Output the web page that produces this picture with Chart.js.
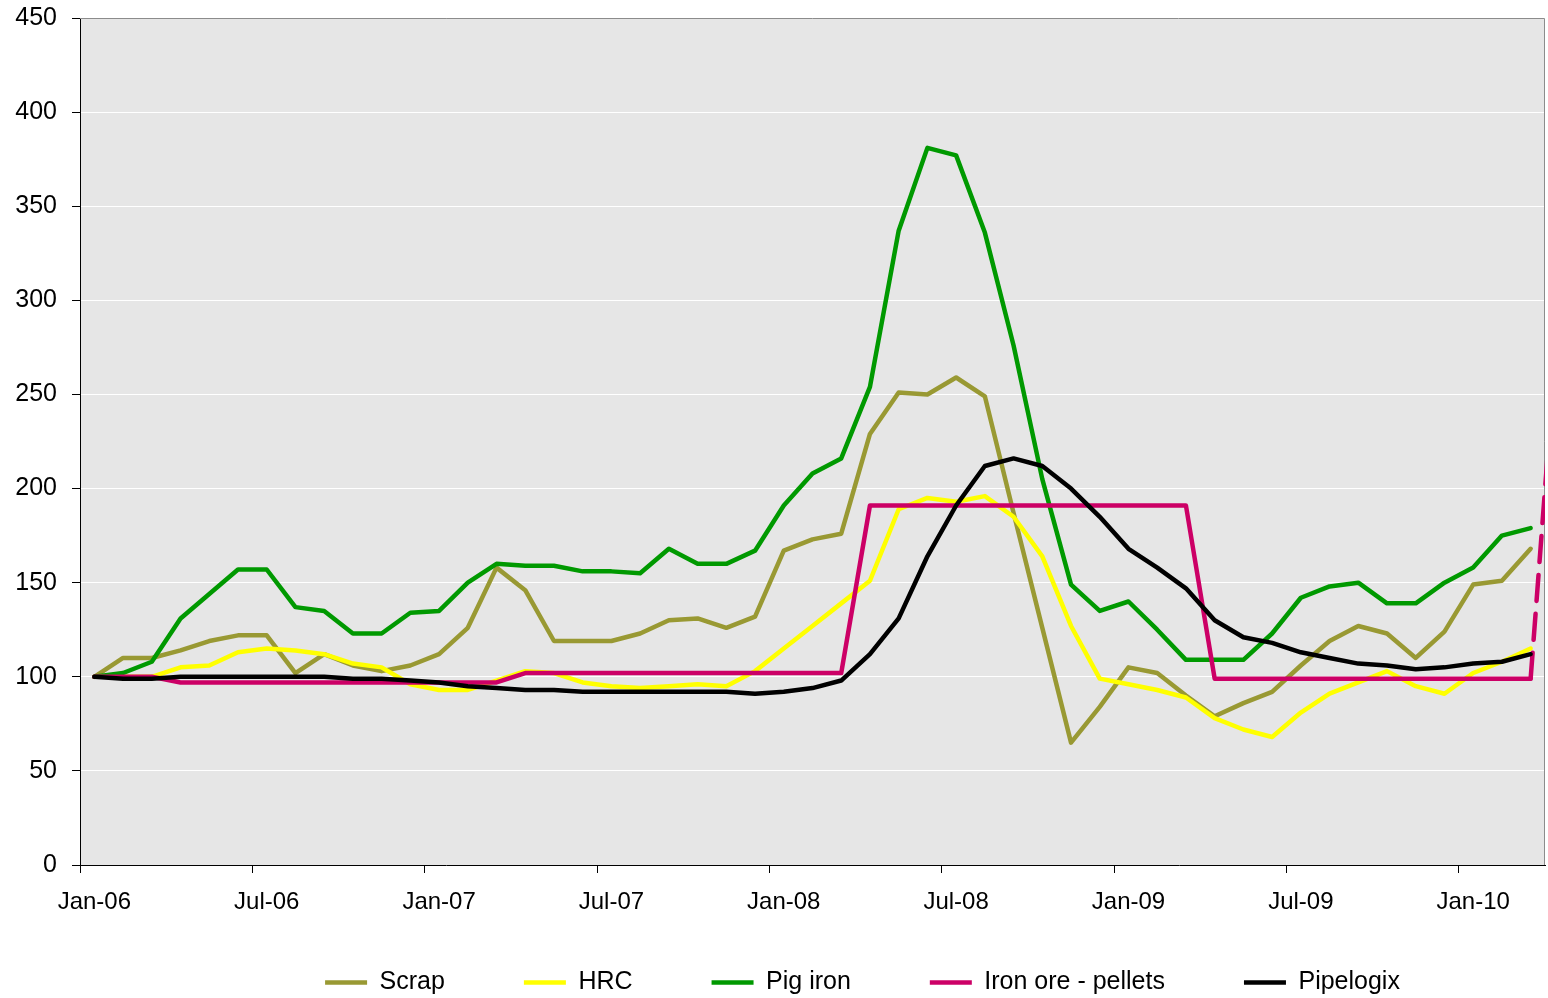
<!DOCTYPE html>
<html>
<head>
<meta charset="utf-8">
<title>Steel input prices vs Pipelogix</title>
<script src="https://cdn.jsdelivr.net/npm/chart.js@4.4.1/dist/chart.umd.min.js"></script>
<style>
  body { margin: 0; background: #fff; }
  #wrap { width: 1548px; height: 998px; }
</style>
</head>
<body>
<div id="wrap"><canvas id="price-chart"></canvas></div>
<script>
// months on the x axis (Apr-10 is only used by the dashed pellets line)
const months = [
  'Jan-06', 'Feb-06', 'Mar-06', 'Apr-06', 'May-06', 'Jun-06', 'Jul-06', 'Aug-06', 'Sep-06', 'Oct-06', 'Nov-06', 'Dec-06',
  'Jan-07', 'Feb-07', 'Mar-07', 'Apr-07', 'May-07', 'Jun-07', 'Jul-07', 'Aug-07', 'Sep-07', 'Oct-07', 'Nov-07', 'Dec-07',
  'Jan-08', 'Feb-08', 'Mar-08', 'Apr-08', 'May-08', 'Jun-08', 'Jul-08', 'Aug-08', 'Sep-08', 'Oct-08', 'Nov-08', 'Dec-08',
  'Jan-09', 'Feb-09', 'Mar-09', 'Apr-09', 'May-09', 'Jun-09', 'Jul-09', 'Aug-09', 'Sep-09', 'Oct-09', 'Nov-09', 'Dec-09',
  'Jan-10', 'Feb-10', 'Mar-10', 'Apr-10'
];
const tickLabels = ['Jan-06', 'Jul-06', 'Jan-07', 'Jul-07', 'Jan-08', 'Jul-08', 'Jan-09', 'Jul-09', 'Jan-10'];

// index values (Jan-06 = 100)
const scrap = [100, 110, 110, 114, 119, 122, 122, 102, 112, 106, 103, 106,
  112, 126, 158, 146, 119, 119, 119, 123, 130, 131, 126, 132,
  167, 173, 176, 229, 251, 250, 259, 249, 187, 126, 65, 84,
  105, 102, 90, 79, 86, 92, 106, 119, 127, 123, 110, 124,
  149, 151, 168];
const hrc = [100, 100, 100, 105, 106, 113, 115, 114, 112, 107, 105, 96,
  93, 93, 98, 103, 102, 97, 95, 94, 95, 96, 95, 103,
  115, 127, 139, 151, 189, 195, 193, 196, 185, 164, 127, 99,
  96, 93, 89, 78, 72, 68, 81, 91, 97, 103, 95, 91,
  102, 108, 115];
const pigIron = [100, 102, 108, 131, 144, 157, 157, 137, 135, 123, 123, 134,
  135, 150, 160, 159, 159, 156, 156, 155, 168, 160, 160, 167,
  191, 208, 216, 254, 337, 381, 377, 336, 276, 205, 149, 135,
  140, 125, 109, 109, 109, 123, 142, 148, 150, 139, 139, 150,
  158, 175, 179];
const pellets = [100, 100, 100, 97, 97, 97, 97, 97, 97, 97, 97, 97,
  97, 97, 97, 102, 102, 102, 102, 102, 102, 102, 102, 102,
  102, 102, 102, 191, 191, 191, 191, 191, 191, 191, 191, 191,
  191, 191, 191, 99, 99, 99, 99, 99, 99, 99, 99, 99,
  99, 99, 99, 300];
const pipelogix = [100, 99, 99, 100, 100, 100, 100, 100, 100, 99, 99, 98,
  97, 95, 94, 93, 93, 92, 92, 92, 92, 92, 92, 91,
  92, 94, 98, 112, 131, 164, 191, 212, 216, 212, 200, 185,
  168, 158, 147, 130, 121, 118, 113, 110, 107, 106, 104, 105,
  107, 108, 112];

const toPoints = (arr) => arr.map((v, i) => ({ x: i, y: v }));

const series = (label, data, color, order) => ({
  label: label,
  data: toPoints(data),
  xAxisID: 'x',
  yAxisID: 'y',
  borderColor: color,
  backgroundColor: color,
  borderWidth: 4.5,
  borderJoinStyle: 'round',
  borderCapStyle: 'round',
  pointRadius: 0,
  pointHoverRadius: 0,
  pointStyle: 'line',
  tension: 0,
  fill: false,
  order: order,
});

const pelletSet = series('Iron ore - pellets', pellets, '#cc0066', 2);
// last step (Mar-10 -> Apr-10) is dashed
pelletSet.segment = {
  borderDash: (ctx) => (ctx.p1DataIndex === pellets.length - 1 ? [26, 13] : undefined),
};

Chart.defaults.font.family = "'Liberation Sans', Arial, sans-serif";
Chart.defaults.color = '#000';

// grey plot area + top/right frame
const plotArea = {
  id: 'plotArea',
  beforeDraw(chart) {
    const { ctx, chartArea: a } = chart;
    ctx.save();
    ctx.fillStyle = '#e6e6e6';
    ctx.fillRect(a.left, a.top, a.width, a.height);
    ctx.restore();
  },
  beforeDatasetsDraw(chart) {
    const { ctx, chartArea: a } = chart;
    ctx.save();
    ctx.strokeStyle = '#8c8c8c';
    ctx.lineWidth = 1;
    ctx.beginPath();
    ctx.moveTo(a.left, a.top + 0.5);
    ctx.lineTo(a.right - 0.5, a.top + 0.5);
    ctx.lineTo(a.right - 0.5, a.bottom);
    ctx.stroke();
    ctx.restore();
  },
};

// legend: wide gaps between items but sitting close under the axis,
// and a bit right of centre like the original
const legendShift = {
  id: 'legendShift',
  afterLayout(chart) {
    const lg = chart.legend;
    lg.left += 90;
    lg.right += 90;
    lg.top -= 26;
  },
};

new Chart(document.getElementById('price-chart'), {
  type: 'line',
  data: {
    datasets: [
      series('Scrap', scrap, '#999933', 5),
      series('HRC', hrc, '#ffff00', 4),
      series('Pig iron', pigIron, '#009900', 3),
      pelletSet,
      series('Pipelogix', pipelogix, '#000000', 1),
    ],
  },
  options: {
    responsive: true,
    maintainAspectRatio: false,
    animation: false,
    layout: { padding: { top: 18, right: 3, bottom: 0, left: 0 } },
    scales: {
      x: {
        type: 'linear',
        position: 'bottom',
        min: -0.5,
        max: 50.5,
        weight: 1,
        afterBuildTicks: (s) => {
          s.ticks = tickLabels.map((l) => ({ value: months.indexOf(l) }));
        },
        afterFit: (s) => {
          s.height = 52;
        },
        ticks: {
          callback: (v) => months[v],
          autoSkip: false,
          maxRotation: 0,
          padding: 23,
          color: '#000',
          font: { size: 24 },
        },
        grid: { display: true, drawOnChartArea: false, drawTicks: false },
        border: { display: true, color: '#000', width: 1, z: 1 },
      },
      x2: {
        // tick marks between the month groups
        type: 'linear',
        axis: 'x',
        position: 'bottom',
        min: -0.5,
        max: 50.5,
        weight: 0,
        afterBuildTicks: (s) => {
          s.ticks = tickLabels.map((l) => ({ value: months.indexOf(l) - 0.5 }));
        },
        afterFit: (s) => {
          s.height = 0;
        },
        ticks: { display: false },
        grid: { drawOnChartArea: false, tickLength: 8, tickColor: '#000' },
        border: { display: false },
      },
      y: {
        min: 0,
        max: 450,
        afterFit: (s) => {
          s.width = 80;
          s.paddingTop = 0;
          s.paddingBottom = 0;
        },
        ticks: { stepSize: 50, padding: 15, color: '#000', font: { size: 25 } },
        grid: { color: '#ffffff', lineWidth: 1, tickColor: '#000', tickLength: 8 },
        border: { color: '#000', width: 1 },
      },
    },
    plugins: {
      legend: {
        position: 'bottom',
        maxHeight: 81,
        labels: {
          usePointStyle: true,
          pointStyleWidth: 42,
          padding: 79,
          color: '#000',
          font: { size: 25 },
          sort: (a, b) => a.datasetIndex - b.datasetIndex,
        },
      },
      tooltip: { enabled: false },
    },
  },
  plugins: [plotArea, legendShift],
});
</script>
</body>
</html>
